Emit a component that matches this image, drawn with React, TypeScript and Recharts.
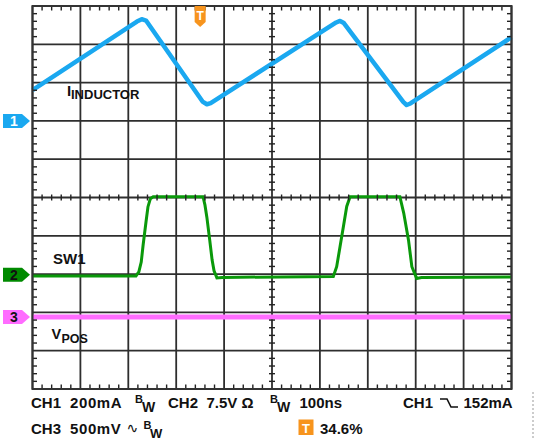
import React from 'react';
import { LineChart, Line, XAxis, YAxis, CartesianGrid } from 'recharts';

// ---- data (time in ns, 100 ns/div) ----
const timeTicks = [0, 100, 200, 300, 400, 500, 600, 700, 800, 900, 1000];
const divTicks = [0, 1, 2, 3, 4, 5, 6, 7, 8, 9, 10];

// CH1: inductor current (mA), 200 mA/div
const ch1Time = [0, 218, 228, 237, 355, 364, 372, 634, 642, 650, 774, 781, 789, 1000];
const ch1Current = [161, 519, 531, 524, 101, 87, 93, 514, 522, 511, 99, 83, 91, 437];

// CH2: SW1 voltage (V), 7.5 V/div
const ch2Time = [0, 216, 222, 227, 231, 237, 241, 246, 252, 356, 360, 364, 370, 375, 379, 385, 396,
  628, 635, 642, 649, 656, 663, 767, 775, 785, 792, 802, 812, 1000];
const ch2Volt = [-0.2, -0.2, 0.6, 2.5, 5.9, 10.4, 13.3, 14.9, 15.3, 15.3, 13.7, 11.3, 6.8, 2.9, 0.8, -0.6, -0.5,
  -0.3, 1.6, 5.5, 9.4, 13.4, 15.3, 15.3, 12.1, 6.8, 1.6, -0.7, -0.5, -0.4];

// CH3: VPOS (mV), 500 mV/div, AC coupled
const ch3Time = [0, 250, 500, 750, 1000];
const ch3MilliVolt = [0, 0, 0, 0, 0];

// scope settings (per-div scale and zero level in divisions from bottom)
const ch1Scale = 200; const ch1Zero = 7;
const ch2Scale = 7.5; const ch2Zero = 2.98;
const ch3Scale = 500; const ch3Zero = 1.88;
const triggerTime = 350;

const row1 = ['CH1', '200mA', 'CH2', '7.5V Ω', '100ns', 'CH1', '152mA'];
const row2 = ['CH3', '500mV', '34.6%'];

// ---- layout ----
const W = 535, H = 440;
const PL = 32.5, PR = 511.5, PT = 6, PB = 389;
const dx = (PR - PL) / 10, dy = (PB - PT) / 10;
const xPx = (ns: number) => PL + (ns / 100) * dx;
const yPx = (div: number) => PB - div * dy;

const BLUE = '#1aa8f0';
const GREEN = '#0a990a';
const GREEN_DARK = '#008a00';
const PINK = '#ff6cff';
const ORANGE = '#f7941d';
const GRID = '#2e2e2e';
const FONT = '"Liberation Sans", Arial, Helvetica, sans-serif';

const ch1Data = ch1Time.map((t, i) => ({ x: t, y: ch1Zero + ch1Current[i] / ch1Scale }));
const ch2Data = ch2Time.map((t, i) => ({ x: t, y: ch2Zero + ch2Volt[i] / ch2Scale }));
const ch3Data = ch3Time.map((t, i) => ({ x: t, y: ch3Zero + ch3MilliVolt[i] / ch3Scale }));

function Marker({ y, color, label, textColor }: { y: number; color: string; label: string; textColor: string }) {
  return (
    <g>
      <path d={`M3,${y - 7} H22 L30,${y} L22,${y + 7} H3 Z`} fill={color} />
      <text x={14} y={y + 5} textAnchor="middle" fontFamily={FONT} fontWeight="bold" fontSize={14} fill={textColor}>{label}</text>
    </g>
  );
}

function Overlay() {
  const ticks: React.ReactNode[] = [];
  const cx = xPx(500), cy = yPx(5);
  for (let i = 1; i < 50; i++) {
    if (i % 5 === 0) continue;
    const x = PL + (i / 5) * dx;
    const y = PT + (i / 5) * dy;
    ticks.push(<line key={'t' + i} x1={x} y1={PT} x2={x} y2={PT + 4.5} />);
    ticks.push(<line key={'b' + i} x1={x} y1={PB - 4.5} x2={x} y2={PB} />);
    ticks.push(<line key={'c' + i} x1={x} y1={cy - 3} x2={x} y2={cy + 3} />);
    ticks.push(<line key={'l' + i} x1={PL} y1={y} x2={PL + 4.5} y2={y} />);
    ticks.push(<line key={'r' + i} x1={PR - 4.5} y1={y} x2={PR} y2={y} />);
    ticks.push(<line key={'v' + i} x1={cx - 3} y1={y} x2={cx + 3} y2={y} />);
  }
  const tx = xPx(triggerTime);
  const b = { fontFamily: FONT, fontWeight: 'bold' as const, fill: '#111' };
  return (
    <svg width={W} height={H} style={{ position: 'absolute', left: 0, top: 0, pointerEvents: 'none' }}>
      <g stroke="#222" strokeWidth={1.4}>{ticks}</g>
      <rect x={PL} y={PT} width={PR - PL} height={PB - PT} fill="none" stroke="#333" strokeWidth={2} />
      {/* channel markers */}
      <Marker y={yPx(ch1Zero)} color={BLUE} label="1" textColor="#fff" />
      <Marker y={yPx(ch2Zero)} color={GREEN_DARK} label="2" textColor="#111" />
      <Marker y={yPx(ch3Zero)} color={PINK} label="3" textColor="#111" />
      {/* trigger marker */}
      <path d={`M${tx - 5.5},6 H${tx + 5.5} V22 L${tx},27 L${tx - 5.5},22 Z`} fill={ORANGE} />
      <text x={tx} y={20} textAnchor="middle" fontFamily={FONT} fontWeight="bold" fontSize={12} fill="#fff">T</text>
      {/* trace labels */}
      <text x={67} y={95.5} fontSize={15} {...b}>I</text>
      <text x={71} y={98.5} fontSize={13} {...b}>INDUCTOR</text>
      <text x={53} y={264} fontSize={15} {...b}>SW1</text>
      <text x={51.5} y={338.5} fontSize={14.5} {...b}>V</text>
      <text x={61.5} y={343} fontSize={12.5} {...b}>POS</text>
      {/* bottom settings, row 1 */}
      <text x={31} y={408} fontSize={15} {...b}>{row1[0]}</text>
      <text x={70} y={408} fontSize={15} {...b} letterSpacing={0.6}>{row1[1]}</text>
      <text x={135} y={403} fontSize={11} {...b}>B</text>
      <text x={142} y={412} fontSize={14} {...b}>W</text>
      <text x={168} y={408} fontSize={15} {...b}>{row1[2]}</text>
      <text x={206.5} y={408} fontSize={15} {...b}>{row1[3]}</text>
      <text x={270} y={403} fontSize={11} {...b}>B</text>
      <text x={277} y={412} fontSize={14} {...b}>W</text>
      <text x={299.5} y={408} fontSize={15} {...b}>{row1[4]}</text>
      <text x={403} y={408} fontSize={15} {...b}>{row1[5]}</text>
      <path d="M440,399 H447 L451,407 H458" fill="none" stroke="#111" strokeWidth={1.6} />
      <text x={463.5} y={408} fontSize={15} {...b}>{row1[6]}</text>
      {/* bottom settings, row 2 */}
      <text x={31} y={433.5} fontSize={15} {...b}>{row2[0]}</text>
      <text x={70} y={433.5} fontSize={15} {...b} letterSpacing={0.6}>{row2[1]}</text>
      <text x={126.5} y={433} fontSize={14} fontFamily='"DejaVu Sans", sans-serif' fill="#111">∿</text>
      <text x={143.5} y={429} fontSize={11} {...b}>B</text>
      <text x={150} y={437.5} fontSize={13} {...b}>W</text>
      <rect x={298.5} y={419.5} width={15} height={15.5} fill={ORANGE} />
      <text x={306} y={432.5} textAnchor="middle" fontFamily={FONT} fontWeight="bold" fontSize={13} fill="#fff">T</text>
      <text x={320} y={433.5} fontSize={15} {...b}>{row2[2]}</text>
      <line x1={533} y1={392} x2={533} y2={440} stroke="#999" strokeWidth={1} strokeDasharray="2 2" />
    </svg>
  );
}

export default function App() {
  return (
    <div style={{ position: 'absolute', left: 0, top: 0, width: W, height: H, background: '#fff' }}>
      <LineChart width={W} height={H} margin={{ top: PT, left: PL, right: W - PR, bottom: H - PB }}>
        <XAxis type="number" dataKey="x" domain={[0, 1000]} ticks={timeTicks} hide allowDuplicatedCategory={false} />
        <YAxis type="number" domain={[0, 10]} ticks={divTicks} hide />
        <CartesianGrid stroke={GRID} strokeWidth={1.8} />
        <Line data={ch3Data} dataKey="y" stroke={PINK} strokeWidth={5} dot={false} isAnimationActive={false} />
        <Line data={ch2Data} dataKey="y" stroke={GREEN} strokeWidth={3} dot={false} isAnimationActive={false} />
        <Line data={ch1Data} dataKey="y" stroke={BLUE} strokeWidth={4.5} dot={false} isAnimationActive={false} strokeLinejoin="round" />
      </LineChart>
      <Overlay />
    </div>
  );
}
